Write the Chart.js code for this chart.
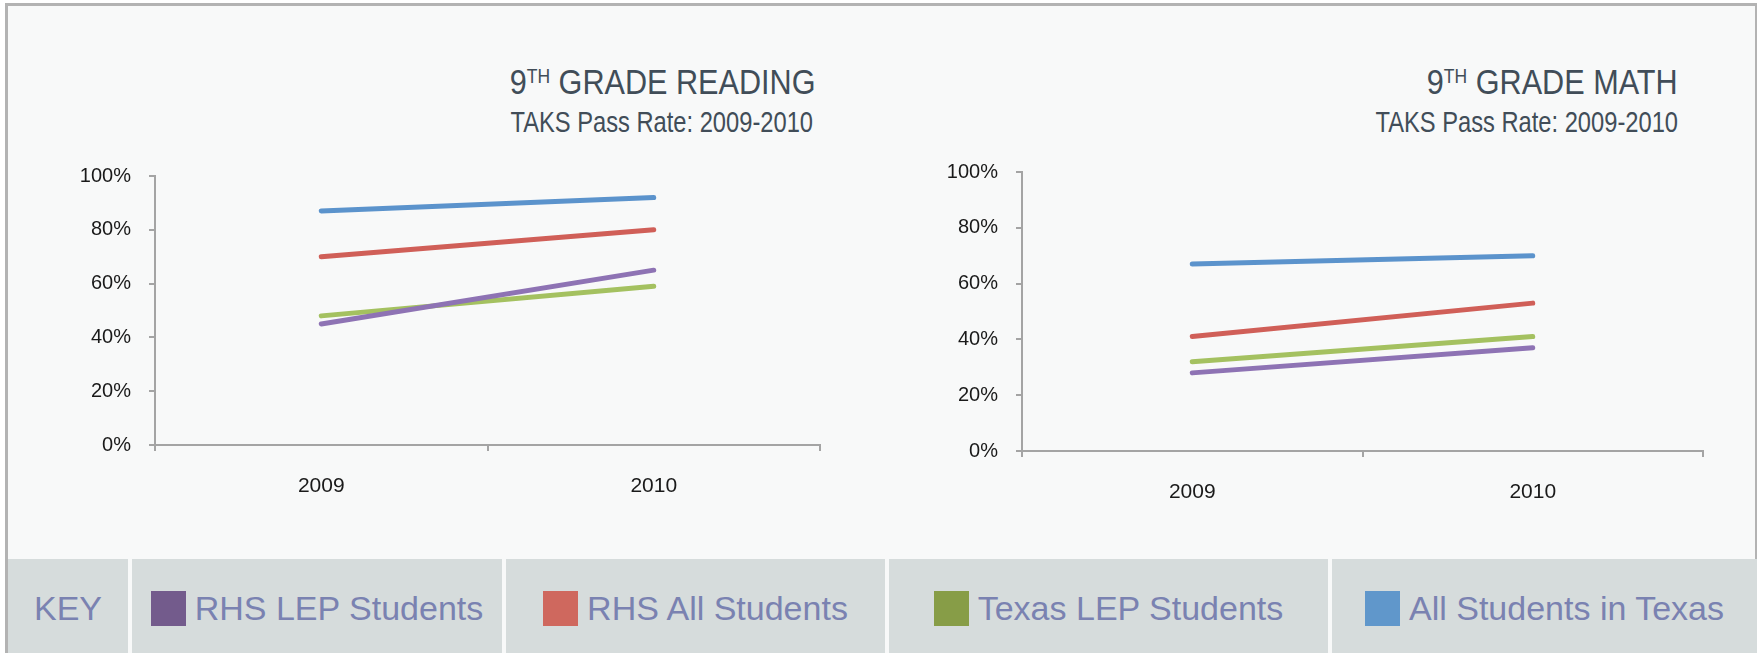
<!DOCTYPE html>
<html>
<head>
<meta charset="utf-8">
<script src="https://cdn.jsdelivr.net/npm/chart.js@4"></script>
<style>
    body{margin:0;width:1764px;height:653px;background:#ffffff;position:relative;overflow:hidden;font-family:'Liberation Sans',Arial,sans-serif;}
    .frame{position:absolute;left:5px;top:3px;width:1752px;height:650px;background:#f8f9f9;border-top:3px solid #b3b3b3;border-left:3px solid #b3b3b3;border-right:2px solid #b3b3b3;box-sizing:border-box;}
    canvas{position:absolute;top:0;}
    #reading{left:0;}
    #math{left:882px;}
    .title{position:absolute;font-size:35px;line-height:1;color:#414d58;white-space:nowrap;transform:scaleX(0.875);transform-origin:right top;}
    .title .sup{font-size:20px;vertical-align:11px;}
    .sub{position:absolute;font-size:30px;line-height:1;color:#414d58;white-space:nowrap;transform:scaleX(0.79);transform-origin:right top;}
    .key{position:absolute;left:8px;top:559px;width:1749px;height:94px;display:flex;}
    .key div{height:94px;background:#d6dcdc;display:flex;align-items:center;justify-content:center;box-sizing:border-box;padding-top:4px;margin-right:4px;font-size:34px;line-height:1;color:#7a82b1;white-space:nowrap;}
    .key div:last-child{margin-right:0;}
    .key span.box{display:inline-block;width:35px;height:35px;margin-right:9px;}
</style>
</head>
<body>
<div class="frame"></div>

<div class="title" style="right:948px;top:64px;">9<span class="sup">TH</span> GRADE READING</div>
<div class="sub" style="right:951px;top:107px;">TAKS Pass Rate: 2009-2010</div>
<div class="title" style="right:86px;top:64px;">9<span class="sup">TH</span> GRADE MATH</div>
<div class="sub" style="right:86px;top:107px;">TAKS Pass Rate: 2009-2010</div>

<canvas id="reading" width="882" height="559"></canvas>
<canvas id="math" width="882" height="559"></canvas>

<div class="key" id="key"></div>

<script>
// dados
const years = ['2009', '2010'];
const seriesNames = ['RHS LEP Students', 'RHS All Students', 'Texas LEP Students', 'All Students in Texas'];

const readingRhsLep = [45, 65];
const readingRhsAll = [70, 80];
const readingTexasLep = [48, 59];
const readingAllTexas = [87, 92];

const mathRhsLep = [28, 37];
const mathRhsAll = [41, 53];
const mathTexasLep = [32, 41];
const mathAllTexas = [67, 70];

const yTicks = [0, 20, 40, 60, 80, 100];

// cores
const lineColors = ['#8e73b4', '#d05f58', '#a4c160', '#5b93cc'];
const keyColors = ['#735b8c', '#cf685e', '#879d47', '#6097cb'];
const axisGray = '#a4a4a4';

Chart.defaults.font.family = "'Liberation Sans', Arial, sans-serif";

function makeDatasets(values){
    var sets = [];
    for(var i = 0; i < values.length; i++){
        sets.push({
            label: seriesNames[i],
            data: values[i],
            borderColor: lineColors[i],
            backgroundColor: lineColors[i],
            borderWidth: 5,
            borderCapStyle: 'round',
            pointRadius: 0,
            tension: 0,
            fill: false
        });
    }
    return sets;
}

function makeChart(el, values, yWidth, pad){
    return new Chart(el, {
        type: 'line',
        data: {
            labels: years,
            datasets: makeDatasets(values)
        },
        options: {
            responsive: false,
            animation: false,
            devicePixelRatio: 1,
            layout: { padding: pad },
            plugins: {
                legend: { display: false },
                tooltip: { enabled: false },
                title: { display: false }
            },
            scales: {
                x: {
                    offset: true,
                    ticks: { padding: 23, color: '#1a1a1a', font: { size: 21 } },
                    grid: { offset: true, drawOnChartArea: false, tickLength: 6, color: axisGray, lineWidth: 2 },
                    border: { color: axisGray, width: 2 },
                    afterFit: function(s){ s.height = 60; }
                },
                y: {
                    min: yTicks[0],
                    max: yTicks[yTicks.length - 1],
                    afterBuildTicks: function(s){ s.ticks = yTicks.map(function(v){ return { value: v }; }); },
                    ticks: { padding: 18, color: '#1a1a1a', font: { size: 20 }, callback: function(v){ return v + '%'; } },
                    grid: { drawOnChartArea: false, tickLength: 6, color: axisGray, lineWidth: 2 },
                    border: { color: axisGray, width: 2 },
                    afterFit: function(s){ s.width = yWidth; }
                }
            }
        }
    });
}

makeChart(document.getElementById('reading'),
    [readingRhsLep, readingRhsAll, readingTexasLep, readingAllTexas],
    155, { left: 0, top: 176, right: 62, bottom: 54 });

makeChart(document.getElementById('math'),
    [mathRhsLep, mathRhsAll, mathTexasLep, mathAllTexas],
    140, { left: 0, top: 172, right: 61, bottom: 48 });

// legenda (KEY)
var key = document.getElementById('key');
var widths = [120, 370, 379, 439, 425];
var cell = document.createElement('div');
cell.style.width = widths[0] + 'px';
cell.textContent = 'KEY';
key.appendChild(cell);
for(var i = 0; i < seriesNames.length; i++){
    var c = document.createElement('div');
    c.style.width = widths[i + 1] + 'px';
    var b = document.createElement('span');
    b.className = 'box';
    b.style.background = keyColors[i];
    c.appendChild(b);
    c.appendChild(document.createTextNode(seriesNames[i]));
    key.appendChild(c);
}
</script>
</body>
</html>
